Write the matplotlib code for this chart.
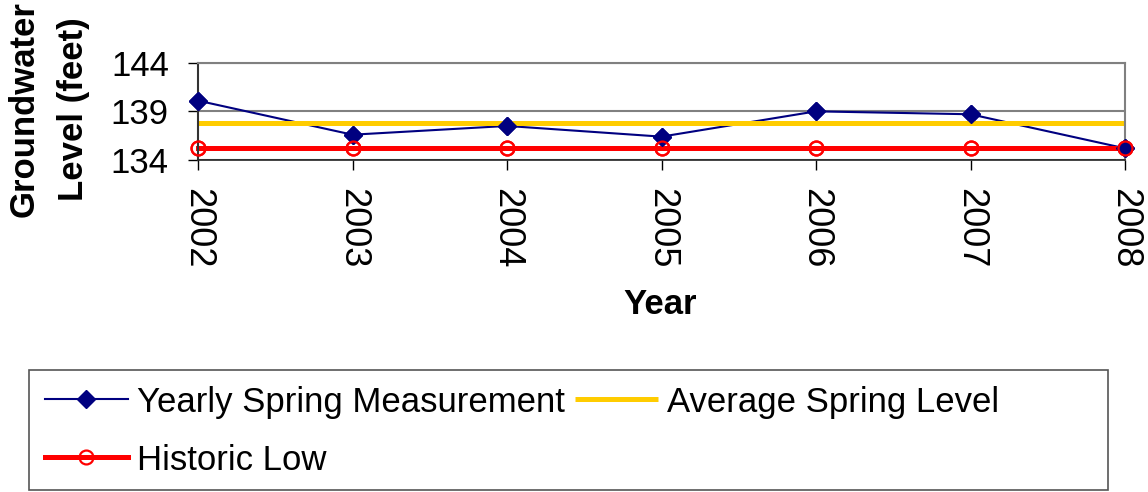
import matplotlib.pyplot as plt
from matplotlib.patches import Rectangle

plt.rcParams['font.family'] = ['Liberation Sans', 'DejaVu Sans']

# niveis de agua subterranea medidos na primavera
years = [2002, 2003, 2004, 2005, 2006, 2007, 2008]
yearly_spring = [140.1, 136.6, 137.5, 136.4, 139.0, 138.7, 135.2]
average_spring = 137.8
historic_low = 135.2

avg_line = [average_spring] * len(years)
low_line = [historic_low] * len(years)

W, H = 1148, 492
fig = plt.figure(figsize=(W / 100, H / 100), dpi=100)
ax = fig.add_axes([198 / W, 1 - 160 / H, (1125 - 198) / W, (160 - 62.7) / H])

navy, gold, red, gray = '#000080', '#FFCC00', '#FF0000', '#808080'

# linhas primeiro, marcadores por cima (igual ao excel)
l_yearly, = ax.plot(years, yearly_spring, color=navy, lw=1.5, marker='D', ms=9,
                    mfc=navy, mec=navy, zorder=2, clip_on=False,
                    label='Yearly Spring Measurement')
l_avg, = ax.plot(years, avg_line, color=gold, lw=3.6, solid_capstyle='butt',
                 zorder=2.1, clip_on=False, label='Average Spring Level')
l_low, = ax.plot(years, low_line, color=red, lw=3.6, marker='o', ms=10,
                 mfc='none', mec=red, mew=1.6, zorder=2.2, clip_on=False,
                 label='Historic Low')
ax.plot(years, yearly_spring, ls='none', marker='D', ms=9, color=navy,
        zorder=3, clip_on=False)
ax.plot(years, low_line, ls='none', marker='o', ms=10, mfc='none', mec=red,
        mew=1.6, zorder=3.1, clip_on=False)

ax.set_xlim(2002, 2008)
ax.set_ylim(134, 144)
ax.set_xticks(years)
ax.set_xticklabels([str(y) for y in years], rotation=-90, fontsize=26)
ax.set_yticks([134, 139, 144])
ax.tick_params(axis='y', labelsize=25, length=7, width=1, pad=14)
ax.tick_params(axis='x', length=7, width=1, pad=13)

ax.grid(axis='y', color=gray, lw=1.5, zorder=1)
ax.grid(axis='x', visible=False)
for side in ['top', 'right']:
    ax.spines[side].set_color(gray)
    ax.spines[side].set_linewidth(1.5)
ax.spines['left'].set_color('#333333')
ax.spines['left'].set_linewidth(1.5)
ax.spines['bottom'].set_color('#222222')
ax.spines['bottom'].set_linewidth(1.2)

ax.set_ylabel('Groundwater\nLevel (feet)', fontsize=25, fontweight='bold',
              va='center', ha='center', linespacing=1.6)
ax.yaxis.set_label_coords(-0.161, 0.52)
ax.set_xlabel('Year', fontsize=25, fontweight='bold', va='center')
ax.xaxis.set_label_coords(0.498, -1.48)

# caixa da legenda desenhada a parte (mais larga que o conteudo)
fig.patches.append(Rectangle((29 / W, 1 - 490 / H), (1108 - 29) / W, (490 - 370) / H,
                             transform=fig.transFigure, fill=False,
                             edgecolor='#555555', lw=1.2))
fig.legend(handles=[l_yearly, l_low, l_avg], ncol=2, frameon=False,
           loc='upper left', bbox_to_anchor=(29 / W, 1 - 370 / H),
           borderaxespad=0, borderpad=0.45, fontsize=25, handlelength=2.4,
           handletextpad=0.25, columnspacing=0.3, labelspacing=0.72)

fig.savefig('out.png', dpi=100)
